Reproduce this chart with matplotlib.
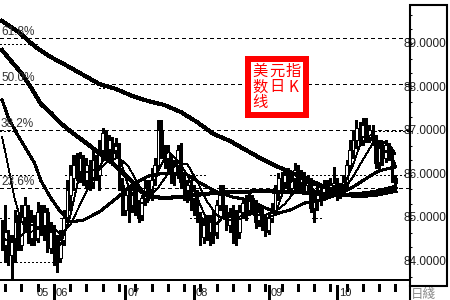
import matplotlib
matplotlib.use('Agg')
import matplotlib.pyplot as plt
from matplotlib.patches import Rectangle
from matplotlib.lines import Line2D
import numpy as np

plt.rcParams['font.family'] = ['Liberation Sans', 'Noto Sans CJK SC', 'DejaVu Sans']
plt.rcParams['lines.antialiased'] = False
plt.rcParams['patch.antialiased'] = False

# ---------------- data ----------------
opens = [84.78, 84.39, 84.62, 84.16, 84.50, 84.92, 84.39, 85.03, 85.15, 84.55,
         84.92, 84.55, 85.12, 84.78, 85.15, 84.32, 84.69, 84.39, 84.09, 84.50,
         85.01, 85.54, 85.93, 86.45, 86.06, 86.34, 85.88, 86.22, 85.84, 86.34,
         86.00, 86.57, 86.91, 86.57, 86.73, 86.57, 86.64, 85.77, 85.19, 85.54,
         85.31, 85.65, 85.19, 85.08, 85.47, 85.65, 85.54, 85.88, 86.22, 87.03,
         86.52, 86.39, 86.39, 86.00, 86.22, 86.61, 85.84, 85.65, 85.70, 85.47,
         85.54, 85.03, 84.57, 84.85, 84.69, 84.92, 84.69, 85.31, 85.54, 85.15,
         84.85, 85.08, 84.96, 84.69, 85.15, 85.31, 85.19, 85.47, 85.26, 84.96,
         85.15, 84.85, 84.73, 85.01, 85.19, 85.61, 85.93, 85.84, 86.00, 85.70,
         85.88, 86.06, 85.81, 85.97, 85.77, 85.81, 85.24, 85.42, 85.65, 85.54,
         85.70, 85.58, 85.77, 85.81, 85.54, 85.70, 85.84, 86.22, 86.57, 86.80,
         87.07, 86.80, 87.14, 86.87, 86.98, 86.80, 86.29, 86.61, 86.39, 86.64,
         86.45, 85.93]
highs = [84.96, 85.31, 84.73, 84.62, 85.19, 85.08, 85.31, 85.49, 85.31, 85.19,
         85.08, 85.38, 85.31, 85.31, 85.24, 84.92, 84.85, 84.62, 84.73, 85.19,
         85.88, 86.22, 86.45, 86.50, 86.52, 86.45, 86.39, 86.34, 86.57, 86.45,
         86.80, 87.07, 87.03, 86.91, 86.87, 86.84, 86.73, 85.93, 85.70, 85.77,
         85.84, 85.77, 85.42, 85.54, 85.88, 85.88, 86.16, 86.39, 87.26, 87.26,
         86.68, 86.68, 86.45, 86.34, 86.68, 86.73, 86.00, 85.88, 85.88, 85.77,
         85.65, 85.15, 85.01, 85.08, 85.08, 85.19, 85.42, 85.77, 85.77, 85.31,
         85.24, 85.31, 85.19, 85.31, 85.47, 85.54, 85.61, 85.54, 85.42, 85.31,
         85.31, 85.08, 85.15, 85.35, 85.77, 86.04, 86.06, 86.16, 86.16, 86.00,
         86.27, 86.22, 86.11, 86.06, 86.00, 85.93, 85.65, 85.77, 85.77, 85.88,
         85.88, 85.93, 86.18, 85.93, 85.81, 86.00, 86.34, 86.80, 87.03, 87.26,
         87.21, 87.30, 87.30, 87.14, 87.14, 86.91, 86.80, 86.75, 86.80, 86.73,
         86.57, 86.00]
lows = [84.28, 84.00, 83.93, 83.63, 84.00, 84.28, 84.28, 84.69, 84.43, 84.39,
        84.39, 84.46, 84.62, 84.50, 84.23, 84.21, 83.93, 83.77, 84.00, 84.39,
        84.92, 85.19, 85.65, 85.88, 85.84, 85.77, 85.70, 85.65, 85.70, 85.88,
        85.65, 86.34, 86.39, 86.34, 86.22, 86.39, 85.65, 85.08, 85.08, 84.92,
        85.15, 85.08, 84.92, 84.96, 85.31, 85.42, 85.42, 85.77, 86.11, 86.39,
        86.16, 86.06, 85.81, 85.77, 85.93, 85.70, 85.42, 85.38, 85.19, 85.08,
        84.92, 84.39, 84.43, 84.50, 84.39, 84.43, 84.55, 85.19, 85.03, 84.73,
        84.69, 84.43, 84.39, 84.55, 85.01, 84.96, 85.08, 85.12, 84.78, 84.83,
        84.73, 84.60, 84.64, 84.92, 85.08, 85.42, 85.65, 85.70, 85.61, 85.54,
        85.65, 85.65, 85.65, 85.65, 85.61, 85.15, 84.92, 85.19, 85.31, 85.42,
        85.47, 85.51, 85.51, 85.42, 85.47, 85.58, 85.70, 86.11, 86.39, 86.61,
        86.68, 86.68, 86.75, 86.75, 86.68, 86.16, 86.16, 86.22, 86.29, 86.34,
        85.84, 85.77]
closes = [84.39, 84.69, 84.16, 84.50, 84.92, 84.39, 85.03, 85.31, 84.55, 84.92,
          84.50, 85.15, 84.78, 85.15, 84.32, 84.69, 84.39, 84.09, 84.50, 85.01,
          85.65, 86.00, 86.22, 86.06, 86.39, 85.88, 86.22, 85.77, 86.34, 86.00,
          86.57, 86.96, 86.57, 86.80, 86.52, 86.66, 85.77, 85.19, 85.54, 85.31,
          85.65, 85.19, 85.01, 85.47, 85.70, 85.54, 85.88, 86.22, 87.03, 86.52,
          86.34, 86.57, 85.93, 86.22, 86.57, 85.84, 85.61, 85.77, 85.42, 85.65,
          85.03, 84.57, 84.85, 84.69, 84.92, 84.62, 85.31, 85.54, 85.15, 84.85,
          85.08, 84.96, 84.69, 85.15, 85.35, 85.15, 85.47, 85.24, 84.92, 85.19,
          84.85, 84.69, 85.01, 85.19, 85.65, 85.93, 85.84, 86.00, 85.70, 85.88,
          86.11, 85.77, 86.00, 85.77, 85.84, 85.24, 85.42, 85.65, 85.54, 85.70,
          85.58, 85.77, 85.81, 85.54, 85.70, 85.84, 86.22, 86.57, 86.80, 87.07,
          86.80, 87.14, 86.84, 87.03, 86.80, 86.27, 86.61, 86.39, 86.68, 86.45,
          85.93, 85.81]

# moving-average lines (bar index, value)
ma_long_idx = [0, 5, 10, 15, 20, 25, 30, 35, 40, 45, 50, 55, 60, 65, 70, 75,
               80, 85, 90, 95, 100, 105, 110, 115, 121]
ma_long = [89.53, 89.28, 88.95, 88.70, 88.50, 88.29, 88.08, 87.97, 87.81, 87.69,
           87.60, 87.44, 87.21, 86.94, 86.78, 86.57, 86.36, 86.18, 86.02, 85.86,
           85.70, 85.54, 85.51, 85.54, 85.63]

ma60_idx = [0, 3, 6, 9, 12, 15, 18, 21, 25, 28, 31, 34, 37, 40, 43, 46, 50, 55,
            60, 65, 70, 75, 80, 85, 90, 95, 100, 105, 110, 115, 121]
ma60 = [88.86, 88.59, 88.33, 87.99, 87.62, 87.42, 87.19, 87.00, 86.78, 86.61,
        86.43, 86.27, 86.06, 85.84, 85.61, 85.49, 85.47, 85.49, 85.54, 85.58,
        85.61, 85.61, 85.63, 85.61, 85.61, 85.58, 85.56, 85.54, 85.56, 85.61, 85.72]

ma20_idx = [0, 2, 5, 7, 10, 12, 15, 18, 21, 25, 30, 33, 36, 40, 45, 50, 54, 57,
            61, 66, 71, 76, 81, 85, 89, 93, 98, 103, 108, 113, 116, 121]
ma20 = [87.72, 87.30, 86.89, 86.64, 86.27, 85.86, 85.47, 85.15, 84.92, 84.96,
        85.15, 85.33, 85.51, 85.77, 85.97, 86.04, 86.04, 86.00, 85.81, 85.61,
        85.49, 85.42, 85.24, 85.12, 85.20, 85.35, 85.42, 85.54, 85.72, 85.96,
        86.09, 86.18]

ma10_idx = [0, 1, 2, 3, 4, 6, 9, 12, 15, 18, 21, 24, 27, 30, 33, 36, 39, 42, 45,
            48, 51, 54, 57, 60, 63, 66, 69, 72, 75, 78, 81, 84, 87, 90, 93, 96,
            99, 102, 105, 108, 111, 114, 117, 120, 121]
ma10 = [86.87, 86.52, 86.16, 85.77, 85.42, 84.92, 84.69, 84.80, 84.85, 84.64,
        84.85, 85.31, 85.77, 86.13, 86.34, 86.39, 86.18, 85.77, 85.45, 85.70,
        86.02, 86.27, 86.25, 85.86, 85.40, 85.08, 84.96, 84.99, 85.12, 85.08,
        85.08, 85.15, 85.33, 85.61, 85.86, 85.77, 85.70, 85.63, 85.65, 85.95,
        86.34, 86.71, 86.77, 86.61, 86.48]

ma5_idx = [0, 3, 6, 9, 12, 15, 18, 21, 24, 27, 30, 33, 36, 39, 42, 45, 48, 51,
           54, 57, 60, 63, 66, 69, 72, 75, 78, 81, 84, 87, 90, 93, 96, 99, 102,
           105, 108, 111, 114, 117, 120, 121]
ma5 = [84.55, 84.46, 84.60, 84.85, 84.78, 84.83, 84.39, 85.05, 86.06, 86.06,
       86.18, 86.57, 86.45, 85.70, 85.33, 85.38, 86.06, 86.55, 86.32, 86.00,
       85.49, 84.96, 84.87, 85.10, 84.94, 85.05, 85.22, 84.99, 85.08, 85.72,
       85.90, 85.90, 85.65, 85.51, 85.67, 85.72, 86.22, 86.87, 86.91, 86.61,
       86.41, 86.25]

fib_levels = [85.70, 87.02, 88.08, 89.14]
fib_labels = ['23.6%', '38.2%', '50.0%', '61.8%']

price_ticks = [84, 85, 86, 87, 88, 89]
price_labels = ['84.0000', '85.0000', '86.0000', '87.0000', '88.0000', '89.0000']

month_labels = ['05', '06', '07', '08', '09', '10']
month_idx = [10.2, 16, 38, 59, 82, 103]

title_text = '美元指数日K线'
period_text = '日綫'

# ---------------- figure ----------------
W, H = 450, 300
fig = plt.figure(figsize=(4.5, 3), dpi=100)
fig.patch.set_facecolor('white')
ax = fig.add_axes([0, 1 - 280 / H, 409 / W, 275 / H])
ax.set_facecolor('white')
ax.set_xlim(-0.615, 125.23)
ax.set_ylim(83.587, 89.894)
for s in ['top', 'left', 'right']:
    ax.spines[s].set_visible(False)
ax.spines['bottom'].set_linewidth(1.3)
ax.spines['bottom'].set_antialiased(False)
ax.set_xticks([])

# right-side price ticks
ax.yaxis.set_ticks_position('right')
ax.set_yticks(np.arange(83 + 2 / 3, 89.9, 1 / 3))
ax.tick_params(axis='y', direction='out', length=2.3, width=0.75,
               labelright=False, labelleft=False)
ytr = ax.get_yaxis_transform()
for v, lab in zip(price_ticks, price_labels):
    ax.text(404 / 409, v, lab, transform=ytr, ha='left', va='center',
            fontsize=8.5, color='#202020', clip_on=False, zorder=6)

# dotted price grid segments
grid_segments = [(89, -0.6, 11.7), (88, 30, 34), (87, -0.6, 5), (87, 108.6, 125.2),
                 (86, -0.6, 10), (86, 19.4, 32.3), (86, 54.8, 62.5), (86, 82.5, 86.5),
                 (86, 91.7, 124.6), (85, -0.6, 3), (85, 17.8, 21), (85, 57.8, 61),
                 (85, 74, 76), (85, 95.4, 98.8), (84, -0.6, 17.8)]
for lvl, a, b in grid_segments:
    ax.hlines(lvl, a, b, colors='black', linewidth=0.75,
              linestyles=(0, (1, 2.2)), zorder=1, antialiased=False)

# Fibonacci levels
for v, lab in zip(fib_levels, fib_labels):
    ax.axhline(v, color='black', linewidth=0.75, linestyle=(0, (3, 3)), zorder=1)
    ax.text(1 / 409, v + 0.069, lab, transform=ytr, ha='left', va='baseline',
            fontsize=8.5, color='#333333', zorder=6)

# candlesticks
idx = np.arange(len(closes))
o = np.array(opens); c = np.array(closes)
hi = np.array(highs); lo = np.array(lows)
ax.vlines(idx, lo, hi, colors='black', linewidth=0.75, zorder=2, antialiased=False)
up = c >= o
bottoms = np.minimum(o, c)
heights = np.maximum(np.abs(c - o), 0.012)
ax.bar(idx, heights, bottom=bottoms, width=0.8,
       color=np.where(up, 'white', 'black'), edgecolor='black',
       linewidth=0.7, zorder=3)

# moving averages
ax.plot(ma5_idx, ma5, color='black', lw=0.6, zorder=4)
ax.plot(ma10_idx, ma10, color='black', lw=0.6, zorder=4)
ax.plot(ma20_idx, ma20, color='black', lw=1.5, zorder=4)
ax.plot(ma60_idx, ma60, color='black', lw=2.2, zorder=4)
ax.plot(ma_long_idx, ma_long, color='black', lw=2.2, zorder=4)

# bottom time axis
xtr = ax.get_xaxis_transform()
def ay(py):
    return (280 - py) / 275
for t in np.arange(1, 125, 5):
    ax.plot([t, t], [ay(285), ay(290)], color='black', lw=0.75,
            transform=xtr, clip_on=False)
for k, (m, lab) in enumerate(zip(month_idx, month_labels)):
    if k > 0:
        ax.plot([m, m], [ay(286), ay(300)], color='black', lw=0.9,
                transform=xtr, clip_on=False)
    ax.text(m + 0.6, ay(288), lab, transform=xtr, ha='left', va='top',
            fontsize=8, color='#202020', clip_on=False)

# right panel frame (box) plus the axis line running to the bottom edge
panel = Rectangle((409.5 / W, 1 - 286 / H), 37.5 / W, 281 / H,
                  transform=fig.transFigure, fill=False, edgecolor='black',
                  linewidth=1.5, antialiased=True, zorder=5)
fig.add_artist(panel)
fig.add_artist(Line2D([409.5 / W, 409.5 / W], [1 - 286 / H, 0.0],
                      transform=fig.transFigure, color='black', lw=1.5,
                      antialiased=True))

fig.text(411 / W, 1 - 288 / H, period_text, ha='left', va='top', fontsize=9,
         color='#8a8a8a', family=['Noto Sans CJK TC', 'Noto Sans CJK SC', 'DejaVu Sans'])

# red title box
rect = Rectangle((248 / W, 1 - 115 / H), 58 / W, 56 / H, transform=fig.transFigure,
                 facecolor='white', edgecolor='#ff0000', linewidth=2.9, zorder=10)
fig.add_artist(rect)
cols = [260, 277, 293]
rows = [71, 87, 103]
for k, ch in enumerate(title_text):
    fig.text(cols[k % 3] / W, 1 - rows[k // 3] / H, ch, ha='center', va='center',
             fontsize=11, color='#ff0000', zorder=11,
             family=['Noto Sans CJK SC', 'DejaVu Sans'])

fig.savefig('out.png', dpi=100, facecolor='white')
